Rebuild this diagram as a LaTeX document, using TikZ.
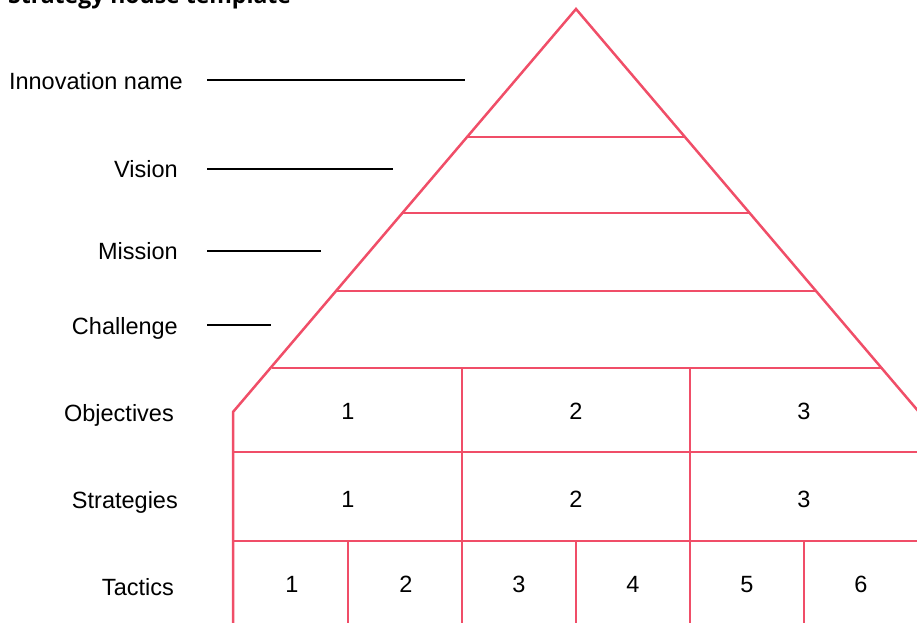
\documentclass[tikz,border=0pt]{standalone}
\usepackage{fontspec}
\setmainfont{Liberation Sans}
\newfontfamily\titlefont{Open Sans}
\definecolor{housered}{HTML}{F04E68}
\tikzset{
  wall/.style={draw=housered, line width=2.5pt},
  lbl/.style={anchor=base east, inner sep=0pt, font=\fontsize{23.5}{28}\selectfont},
  cell/.style={anchor=base, inner sep=0pt, font=\fontsize{23.5}{28}\selectfont},
  leader/.style={draw=black, line width=1.1pt}
}
\begin{document}
\begin{tikzpicture}[x=1pt, y=-1pt]
\useasboundingbox (0,0) rectangle (917,622);
\clip (0,0) rectangle (917,622);
% title
\node[anchor=base west, inner sep=0pt, font=\titlefont\bfseries\fontsize{23}{27}\selectfont] (title) at (8,3) {Strategy house template};
% roof and walls
\coordinate (apex) at (576,9);
\coordinate (eaveL) at (233,412);
\coordinate (eaveR) at (919,412);
\draw[wall] (233,640) -- (eaveL) -- (apex) -- (eaveR) -- (919,640);
\draw[wall] (468,137) -- (685,137);
\draw[wall] (403,213) -- (749,213);
\draw[wall] (337,291) -- (816,291);
\draw[wall] (272,368) -- (881,368);
\draw[wall] (233,452) -- (919,452);
\draw[wall] (233,541) -- (919,541);
\foreach \x in {462,690} \draw[wall] (\x,368) -- (\x,640);
\foreach \x in {348,576,804} \draw[wall] (\x,541) -- (\x,640);
% labels with leaders
\node[lbl] (innov) at (183,89) {Innovation name};
\node[lbl] (vision) at (178,177) {Vision};
\node[lbl] (mission) at (178,259) {Mission};
\node[lbl] (challenge) at (178,334) {Challenge};
\coordinate (innovStart) at (207,80);
\coordinate (visionStart) at (207,169);
\coordinate (missionStart) at (207,251);
\coordinate (challengeStart) at (207,325);
\draw[leader] (innovStart) -- (465,80);
\draw[leader] (visionStart) -- (393,169);
\draw[leader] (missionStart) -- (321,251);
\draw[leader] (challengeStart) -- (271,325);
\node[lbl] (objectives) at (174,421) {Objectives};
\node[lbl] (strategies) at (178,508) {Strategies};
\node[lbl] (tactics) at (174,595) {Tactics};
% cells
\foreach \i/\x in {1/348,2/576,3/804} {
  \node[cell] (obj\i) at (\x,419.5) {\i};
  \node[cell] (str\i) at (\x,507.5) {\i};
}
\foreach \i/\x in {1/292,2/406,3/519,4/633,5/747,6/861}
  \node[cell] (tac\i) at (\x,592) {\i};
\end{tikzpicture}
\end{document}
